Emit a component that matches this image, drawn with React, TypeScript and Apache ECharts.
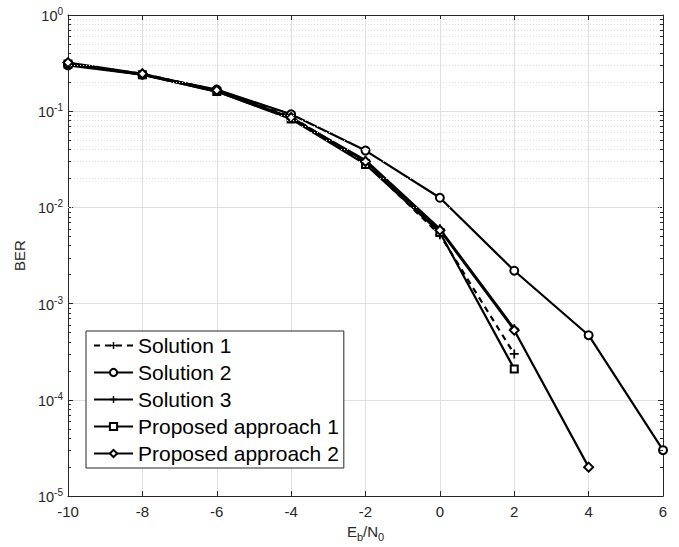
import React, { useEffect, useRef } from "react";
import * as echarts from "echarts";

const xs = [-10, -8, -6, -4, -2, 0, 2, 4, 6];
const xTicks = [-10, -8, -6, -4, -2, 0, 2, 4, 6];
const seriesNames = ["Solution 1", "Solution 2", "Solution 3", "Proposed approach 1", "Proposed approach 2"];
const solution1 = [0.31, 0.245, 0.165, 0.088, 0.029, 0.0052, 0.0003];
const solution2 = [0.3, 0.24, 0.168, 0.093, 0.039, 0.0126, 0.0022, 0.00047, 0.00003];
const solution3 = [0.31, 0.24, 0.16, 0.085, 0.031, 0.006, 0.00055];
const proposed1 = [0.31, 0.24, 0.16, 0.083, 0.028, 0.0055, 0.00021];
const proposed2 = [0.32, 0.245, 0.165, 0.086, 0.03, 0.0058, 0.00053, 0.00002];
const decades = [-5, -4, -3, -2, -1];
const minorMultipliers = [2, 3, 4, 5, 6, 7, 8, 9];

const PLUS = "path://M4,0 H6 V4 H10 V6 H6 V10 H4 V6 H0 V4 H4 Z";
const FONT = "'Liberation Sans', Arial, Helvetica, sans-serif";
const AX = "#262626";

function pairs(vals: number[]) {
  return vals.map((v, i) => [xs[i], v]);
}

export default function App() {
  const ref = useRef<HTMLDivElement>(null);
  useEffect(() => {
    const chart = echarts.init(ref.current!, undefined, { renderer: "svg" });
    const minorVals: number[] = [];
    decades.forEach((d) => minorMultipliers.forEach((m) => minorVals.push(m * Math.pow(10, d))));
    const xMin = xTicks[0];
    const xMax = xTicks[xTicks.length - 1];
    const tickLen = (xMax - xMin) * 0.005;
    const base = {
      type: "line",
      color: "#000",
      lineStyle: { color: "#000", width: 2.2 },
      itemStyle: { color: "#000", borderColor: "#000", borderWidth: 1.5 },
      showAllSymbol: true,
      z: 3,
    };
    const yLabel = (v: number) => `{b|10}{s|${Math.round(Math.log10(v))}}`;
    chart.setOption({
      animation: false,
      textStyle: { fontFamily: FONT },
      grid: { left: 68, right: 16, top: 15, bottom: 50 },
      xAxis: [
        {
          type: "value",
          min: xMin,
          max: xMax,
          interval: 2,
          name: "{m|E}{s|b}{m|/N}{s|0}",
          nameLocation: "middle",
          nameGap: 25,
          nameTextStyle: {
            rich: {
              m: { fontSize: 15, color: AX, fontFamily: FONT, lineHeight: 18, verticalAlign: "top" },
              s: { fontSize: 11, color: AX, fontFamily: FONT, lineHeight: 18, verticalAlign: "bottom" },
            },
          },
          axisLine: { show: true, onZero: false, lineStyle: { color: AX, width: 1 } },
          axisTick: { show: true, inside: true, length: 5, lineStyle: { color: AX } },
          axisLabel: { color: AX, fontSize: 15, margin: 8, fontFamily: FONT },
          splitLine: { show: true, lineStyle: { color: "#e0e0e0", width: 1 } },
        },
        {
          type: "value",
          position: "top",
          min: xMin,
          max: xMax,
          interval: 2,
          axisLine: { show: true, onZero: false, lineStyle: { color: AX, width: 1 } },
          axisTick: { show: true, inside: true, length: 5, lineStyle: { color: AX } },
          axisLabel: { show: false },
          splitLine: { show: false },
        },
      ],
      yAxis: [
        {
          type: "log",
          logBase: 10,
          min: 1e-5,
          max: 1,
          name: "BER",
          nameLocation: "middle",
          nameGap: 41,
          nameRotate: 90,
          nameTextStyle: { color: AX, fontSize: 15, fontFamily: FONT },
          axisLine: { show: true, onZero: false, lineStyle: { color: AX, width: 1 } },
          axisTick: { show: true, inside: true, length: 5, lineStyle: { color: AX } },
          axisLabel: {
            color: AX,
            margin: 5,
            formatter: yLabel,
            rich: {
              b: { fontSize: 14.5, color: AX, fontFamily: FONT, lineHeight: 17, verticalAlign: "bottom" },
              s: { fontSize: 10, color: AX, fontFamily: FONT, lineHeight: 11, verticalAlign: "top" },
            },
          },
          splitLine: { show: true, lineStyle: { color: "#e0e0e0", width: 1 } },
        },
        {
          type: "log",
          logBase: 10,
          min: 1e-5,
          max: 1,
          position: "right",
          axisLine: { show: true, onZero: false, lineStyle: { color: AX, width: 1 } },
          axisTick: { show: true, inside: true, length: 5, lineStyle: { color: AX } },
          axisLabel: { show: false },
          splitLine: { show: false },
        },
      ],
      legend: {
        orient: "vertical",
        left: 86,
        top: 331,
        data: seriesNames,
        backgroundColor: "#fff",
        borderColor: AX,
        borderWidth: 1,
        padding: [4, 5, 4, 7],
        itemGap: 6,
        itemWidth: 39,
        itemHeight: 9,
        textStyle: { fontSize: 21, lineHeight: 20, color: "#000", fontFamily: FONT },
        z: 10,
      },
      series: [
        {
          type: "line",
          name: "grid-minor",
          data: [],
          silent: true,
          z: 1,
          markLine: {
            silent: true,
            symbol: ["none", "none"],
            label: { show: false },
            lineStyle: { color: "#dcdcdc", type: [1, 2], width: 1 },
            data: minorVals.map((v) => ({ yAxis: v })),
          },
        },
        {
          type: "line",
          name: "ticks-minor",
          data: [],
          silent: true,
          z: 2,
          markLine: {
            silent: true,
            symbol: ["none", "none"],
            label: { show: false },
            lineStyle: { color: AX, type: "solid", width: 1 },
            data: minorVals.flatMap((v) => [
              [{ coord: [xMin, v] }, { coord: [xMin + tickLen, v] }],
              [{ coord: [xMax - tickLen, v] }, { coord: [xMax, v] }],
            ]),
          },
        },
        {
          ...base,
          name: seriesNames[0],
          data: pairs(solution1),
          symbol: PLUS,
          symbolSize: 9,
          lineStyle: { color: "#000", width: 2.2, type: [6, 5] },
          itemStyle: { color: "#000" },
        },
        {
          ...base,
          name: seriesNames[1],
          data: pairs(solution2),
          symbol: "emptyCircle",
          symbolSize: 8,
        },
        {
          ...base,
          name: seriesNames[2],
          data: pairs(solution3),
          symbol: PLUS,
          symbolSize: 9,
          itemStyle: { color: "#000" },
        },
        {
          ...base,
          name: seriesNames[3],
          data: pairs(proposed1),
          symbol: "emptyRect",
          symbolSize: 7,
        },
        {
          ...base,
          name: seriesNames[4],
          data: pairs(proposed2),
          symbol: "emptyDiamond",
          symbolSize: 9,
        },
      ],
    });
    return () => chart.dispose();
  }, []);
  return (
    <div
      ref={ref}
      style={{ position: "fixed", left: 0, top: 0, width: 679, height: 547, background: "#fff" }}
    />
  );
}
